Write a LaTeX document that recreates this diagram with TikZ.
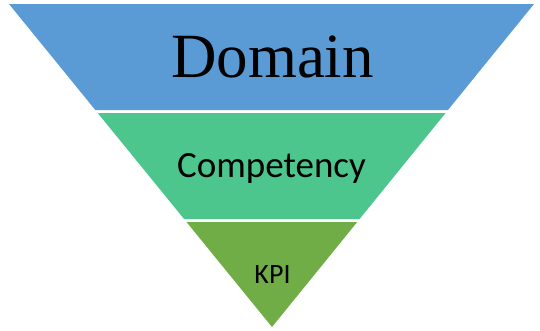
\documentclass[tikz,border=0pt]{standalone}
\usepackage{fontspec}
\setmainfont{Liberation Serif}
\newfontfamily\calibfont{Carlito}
\definecolor{domainblue}{HTML}{5B9BD5}
\definecolor{compgreen}{HTML}{4DC68D}
\definecolor{kpigreen}{HTML}{70AD47}
\tikzset{
  band/.style={draw=none},
  lbl/.style={anchor=base, inner sep=0pt, text=black}
}
\begin{document}
\begin{tikzpicture}[x=1pt,y=-1pt]
\useasboundingbox (0,0) rectangle (540,330);
\fill[band, domainblue] (9,4) -- (534,4) -- (448.0,110) -- (95.3,110) -- cycle;
\fill[band, compgreen] (97.7,113) -- (445.6,113) -- (359.6,219) -- (184.1,219) -- cycle;
\fill[band, kpigreen] (186.5,222) -- (357.2,222) -- (272,327) -- cycle;
\node[lbl, font=\fontsize{63}{63}\selectfont] (domain) at (272.5,77) {Domain};
\node[lbl, font=\calibfont\fontsize{37}{37}\selectfont] (competency) at (271.5,177) {Competency};
\node[lbl, font=\calibfont\fontsize{28}{28}\selectfont] (kpi) at (272.5,283) {KPI};
\end{tikzpicture}
\end{document}
